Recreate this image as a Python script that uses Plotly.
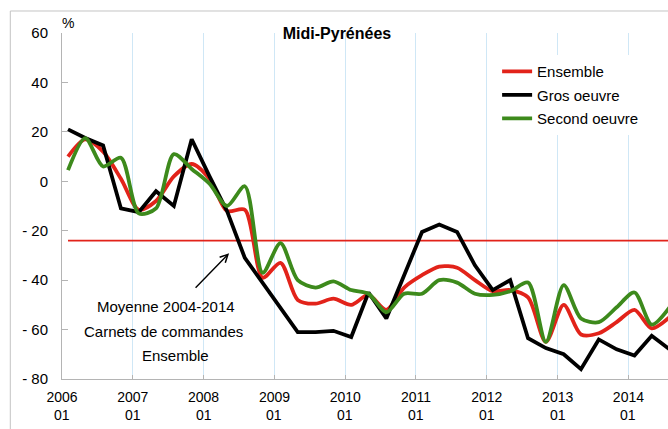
import plotly.graph_objects as go

# ---------------- data ----------------
dates = [
    "2006-02-01", "2006-05-01", "2006-08-01", "2006-11-01",
    "2007-02-01", "2007-05-01", "2007-08-01", "2007-11-01",
    "2008-02-01", "2008-05-01", "2008-08-01", "2008-11-01",
    "2009-02-01", "2009-05-01", "2009-08-01", "2009-11-01",
    "2010-02-01", "2010-05-01", "2010-08-01", "2010-11-01",
    "2011-02-01", "2011-05-01", "2011-08-01", "2011-11-01",
    "2012-02-01", "2012-05-01", "2012-08-01", "2012-11-01",
    "2013-02-01", "2013-05-01", "2013-08-01", "2013-11-01",
    "2014-02-01", "2014-05-01", "2014-08-01",
]
ensemble = [10, 17, 12, 1, -11.5, -8, 2, 7, 1, -12, -11.5, -39, -33, -48, -49.5, -47.5,
            -50, -46, -52, -43, -38, -34.5, -35, -40, -44.5, -44, -47, -65, -50, -62,
            -61.5, -57, -52, -59.5, -55]
gros_oeuvre = [21, 17.5, 14.5, -11, -12.5, -4, -10, 17, 2, -12, -31, -41, -51, -61, -61, -60.5,
               -63, -45, -55.5, -38, -20.5, -17.5, -20.5, -34, -44, -40, -63.5, -67.5, -70, -76,
               -64, -68, -70.5, -62.5, -68]
second_oeuvre = [4.5, 17.5, 6, 9.5, -13, -11, 11, 5, -1, -10, -2, -37, -25, -40, -43, -40.5,
                 -44, -45.5, -53, -45.5, -45.5, -40, -41, -45.5, -46, -44.5, -41, -65, -42, -55.5,
                 -57, -51, -45, -58, -51]
moyenne = -24

year_ticks = ["2006-01-01", "2007-01-01", "2008-01-01", "2009-01-01", "2010-01-01",
              "2011-01-01", "2012-01-01", "2013-01-01", "2014-01-01"]
year_labels = ["2006", "2007", "2008", "2009", "2010", "2011", "2012", "2013", "2014"]
month_label = "01"
y_ticks = [60, 40, 20, 0, -20, -40, -60, -80]
y_labels = ["60", "40", "20", "0", "- 20", "- 40", "- 60", "- 80"]

# ---------------- styles ----------------
FONT = "Liberation Sans, Arial, sans-serif"
RED = "#e2231a"
BLACK = "#000000"
GREEN = "#3d8a1c"

fig = go.Figure()

fig.add_trace(go.Scatter(
    x=[dates[0], dates[-1]], y=[moyenne, moyenne], mode="lines",
    line=dict(color=RED, width=1.6), showlegend=False, hoverinfo="skip"))

fig.add_trace(go.Scatter(
    x=dates, y=ensemble, mode="lines", name="Ensemble", legendgroup="a", legendrank=1,
    line=dict(color=RED, width=3.8, shape="spline", smoothing=0.8)))
fig.add_trace(go.Scatter(
    x=dates, y=gros_oeuvre, mode="lines", name="Gros oeuvre", legendgroup="b", legendrank=2,
    line=dict(color=BLACK, width=3.8)))
fig.add_trace(go.Scatter(
    x=dates, y=second_oeuvre, mode="lines", name="Second oeuvre", legendgroup="c", legendrank=3,
    line=dict(color=GREEN, width=3.8, shape="spline", smoothing=0.8)))

annotations = []
for d in year_ticks:
    annotations.append(dict(x=d, y=-0.104, xref="x", yref="paper", text=month_label,
                            showarrow=False, xanchor="center", yanchor="middle",
                            font=dict(family=FONT, size=14, color="#000")))
annotations.append(dict(x=0.0096, y=1.03, xref="paper", yref="paper", text="%",
                        showarrow=False, xanchor="center", yanchor="middle",
                        font=dict(family=FONT, size=14, color="#000")))
for txt, yy, xx in [("Moyenne 2004-2014", -50.5, "2007-06-24"),
                    ("Carnets de commandes", -60.6, "2007-06-10"),
                    ("Ensemble", -70.3, "2007-08-10")]:
    annotations.append(dict(x=xx, y=yy, xref="x", yref="y", text=txt, showarrow=False,
                            xanchor="center", yanchor="middle",
                            font=dict(family=FONT, size=15, color="#000")))
annotations.append(dict(x="2008-05-12", y=-29.1, xref="x", yref="y", text="",
                        showarrow=True, ax=-35, ay=36, arrowhead=5, arrowsize=1.1,
                        arrowwidth=1.4, arrowcolor="#000"))

fig.update_layout(
    width=668, height=429,
    margin=dict(l=62, r=0, t=33, b=50, autoexpand=False),
    paper_bgcolor="white", plot_bgcolor="white",
    font=dict(family=FONT, size=15, color="#000"),
    title=dict(text="<b>Midi-Pyrénées</b>", x=337 / 668, xanchor="center",
               y=1 - 33 / 429, yanchor="middle",
               font=dict(family=FONT, size=16, color="#000")),
    showlegend=True,
    legend=dict(x=0.718, y=0.936, xanchor="left", yanchor="top", bgcolor="white",
                tracegroupgap=1, font=dict(family=FONT, size=15, color="#000"),
                itemwidth=30),
    annotations=annotations,
    shapes=[dict(type="rect", xref="paper", yref="paper", x0=-0.0853, x1=1.2,
                 y0=-0.4, y1=1.0636, line=dict(color="#c4c4c4", width=1), layer="below")],
)

fig.update_xaxes(
    type="date", range=["2006-01-01", "2014-07-24"],
    tickmode="array", tickvals=year_ticks, ticktext=year_labels,
    showgrid=True, gridcolor="#cfe7f6", gridwidth=1,
    showline=True, linecolor="#b4b4b4", linewidth=1,
    ticks="inside", ticklen=4, tickcolor="#b4b4b4",
    tickfont=dict(family=FONT, size=14, color="#000"),
    zeroline=False, ticklabelstandoff=5, automargin=False,
)
fig.update_yaxes(
    range=[-80, 60], tickmode="array", tickvals=y_ticks, ticktext=y_labels,
    showgrid=False, zeroline=False,
    showline=True, linecolor="#b4b4b4", linewidth=1,
    ticks="inside", ticklen=6, tickcolor="#b4b4b4",
    tickfont=dict(family=FONT, size=15, color="#000"),
    ticklabelstandoff=10, automargin=False,
)

fig.write_html(
    "out.html",
    config={"displayModeBar": False},
    post_script="document.body.style.margin='0';document.documentElement.style.overflow='hidden';",
)
